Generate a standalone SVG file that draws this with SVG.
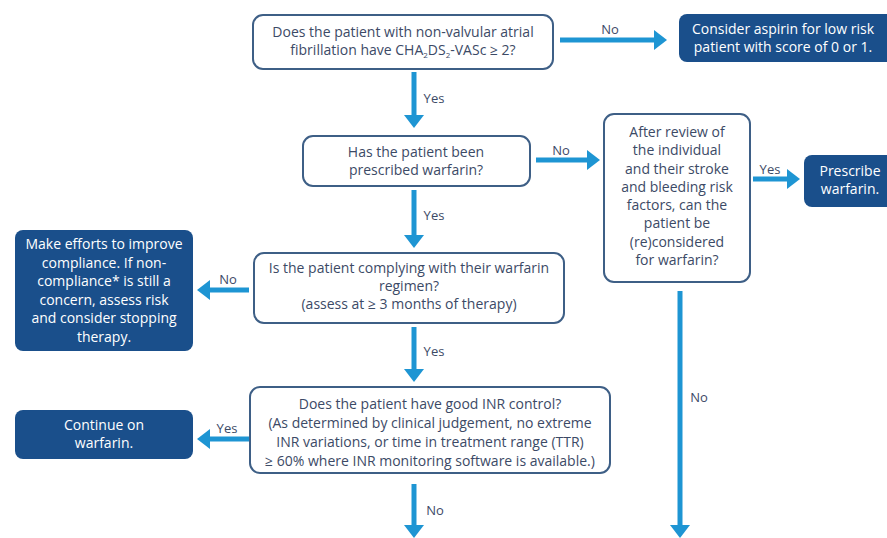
<svg xmlns="http://www.w3.org/2000/svg" width="887" height="538" viewBox="0 0 887 538">
<defs>
<style>
.q{fill:#fff;stroke:#3e5f86;stroke-width:2}
.a{fill:#1a4f8b;stroke:none}
.t{font-family:"Open Sans","Liberation Sans",sans-serif;font-size:14px;fill:#3c4a66;text-anchor:middle}
.w{font-family:"Open Sans","Liberation Sans",sans-serif;font-size:14px;fill:#fff;text-anchor:middle}
.l{font-family:"Open Sans","Liberation Sans",sans-serif;font-size:13px;fill:#3c4a66;text-anchor:middle}
.c{stroke:#1e95d3;stroke-width:5;fill:none}
.h{fill:#1e95d3}
</style>
</defs>
<rect width="887" height="538" fill="#fff"/>
<g id="connectors">
<line class="c" x1="560" y1="40" x2="655" y2="40"/><polygon class="h" points="654,30 667,40 654,50"/>
<line class="c" x1="414" y1="72" x2="414" y2="116"/><polygon class="h" points="404,115 414,128 424,115"/>
<line class="c" x1="536" y1="160" x2="588" y2="160"/><polygon class="h" points="587,150 600,160 587,170"/>
<line class="c" x1="753" y1="179" x2="788" y2="179"/><polygon class="h" points="787,169 800,179 787,189"/>
<line class="c" x1="414" y1="190" x2="414" y2="236"/><polygon class="h" points="404,235 414,248 424,235"/>
<line class="c" x1="249" y1="290" x2="209" y2="290"/><polygon class="h" points="210,280 197,290 210,300"/>
<line class="c" x1="414" y1="327" x2="414" y2="370"/><polygon class="h" points="404,369 414,382 424,369"/>
<line class="c" x1="249" y1="439" x2="209" y2="439"/><polygon class="h" points="210,429 197,439 210,449"/>
<line class="c" x1="414" y1="484" x2="414" y2="526"/><polygon class="h" points="404,525 414,538 424,525"/>
<line class="c" x1="680" y1="291" x2="680" y2="526"/><polygon class="h" points="670,525 680,538 690,525"/>
<text class="l" x="610" y="34">No</text>
<text class="l" x="434" y="103">Yes</text>
<text class="l" x="561" y="155">No</text>
<text class="l" x="770" y="174">Yes</text>
<text class="l" x="434" y="220">Yes</text>
<text class="l" x="228" y="284">No</text>
<text class="l" x="434" y="356">Yes</text>
<text class="l" x="227" y="433">Yes</text>
<text class="l" x="435" y="515">No</text>
<text class="l" x="699" y="402">No</text>
</g>
<g id="q1">
<rect class="q" x="253" y="15" width="300" height="54" rx="10"/>
<text class="t" x="403" y="37">Does the patient with non-valvular atrial</text>
<text class="t" x="403" y="55">fibrillation have CHA<tspan font-size="8" dy="3">2</tspan><tspan dy="-3">DS</tspan><tspan font-size="8" dy="3">2</tspan><tspan dy="-3">-VASc ≥ 2?</tspan></text>
</g>
<g id="aspirin">
<rect class="a" x="679" y="14" width="220" height="48" rx="8"/>
<text class="w" x="783" y="34" font-size="13.2">Consider aspirin for low risk</text>
<text class="w" x="783" y="52" font-size="13.2">patient with score of 0 or 1.</text>
</g>
<g id="q2">
<rect class="q" x="303" y="136" width="227" height="50" rx="10"/>
<text class="t" x="416" y="157">Has the patient been</text>
<text class="t" x="416" y="175">prescribed warfarin?</text>
</g>
<g id="q3">
<rect class="q" x="604" y="114" width="146" height="168" rx="10"/>
<text class="t" x="677" y="137">After review of</text>
<text class="t" x="677" y="155">the individual</text>
<text class="t" x="677" y="174">and their stroke</text>
<text class="t" x="677" y="192">and bleeding risk</text>
<text class="t" x="677" y="210">factors, can the</text>
<text class="t" x="677" y="228">patient be</text>
<text class="t" x="677" y="247">(re)considered</text>
<text class="t" x="677" y="265">for warfarin?</text>
</g>
<g id="prescribe">
<rect class="a" x="804" y="155" width="95" height="52" rx="8"/>
<text class="w" x="850" y="176">Prescribe</text>
<text class="w" x="850" y="194">warfarin.</text>
</g>
<g id="q4">
<rect class="q" x="254" y="253" width="310" height="70" rx="10"/>
<text class="t" x="409" y="273">Is the patient complying with their warfarin</text>
<text class="t" x="409" y="291">regimen?</text>
<text class="t" x="409" y="309">(assess at ≥ 3 months of therapy)</text>
</g>
<g id="compliance">
<rect class="a" x="15" y="230" width="178" height="121" rx="8"/>
<text class="w" x="104" y="249">Make efforts to improve</text>
<text class="w" x="104" y="268">compliance. If non-</text>
<text class="w" x="104" y="286">compliance* is still a</text>
<text class="w" x="104" y="305">concern, assess risk</text>
<text class="w" x="104" y="323">and consider stopping</text>
<text class="w" x="104" y="342">therapy.</text>
</g>
<g id="q5">
<rect class="q" x="250" y="387" width="360" height="86" rx="10"/>
<text class="t" x="430" y="409" font-size="13.5">Does the patient have good INR control?</text>
<text class="t" x="430" y="428" font-size="13.5">(As determined by clinical judgement, no extreme</text>
<text class="t" x="430" y="447" font-size="13.5">INR variations, or time in treatment range (TTR)</text>
<text class="t" x="430" y="466" font-size="13.5">≥ 60% where INR monitoring software is available.)</text>
</g>
<g id="continue">
<rect class="a" x="15" y="410" width="178" height="49" rx="8"/>
<text class="w" x="104" y="430">Continue on</text>
<text class="w" x="104" y="448">warfarin.</text>
</g>
</svg>
